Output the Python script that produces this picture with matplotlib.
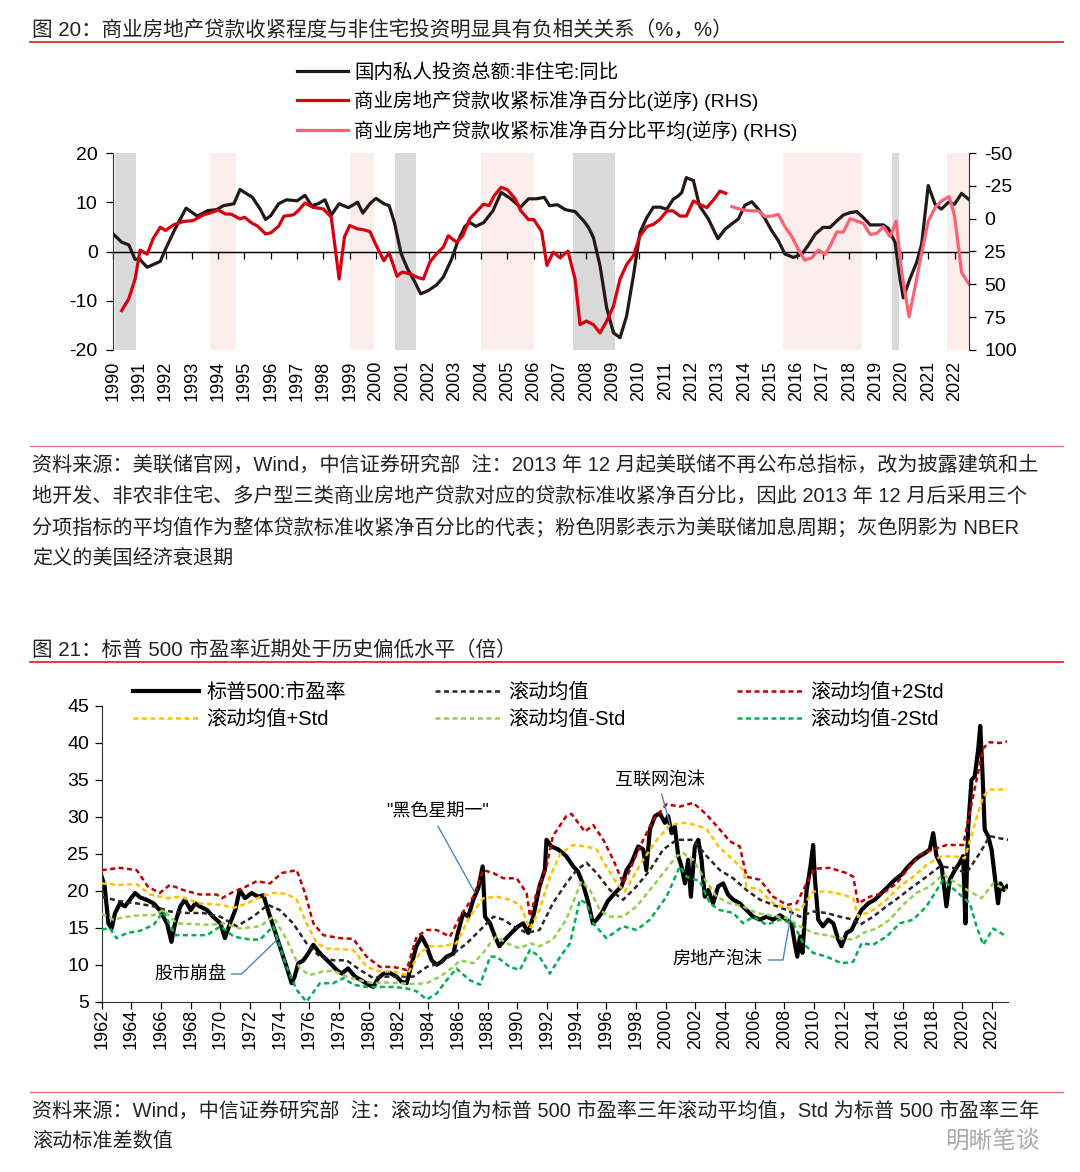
import matplotlib
matplotlib.use("Agg")
import matplotlib.pyplot as plt
from matplotlib.lines import Line2D

plt.rcParams['font.family'] = ['Liberation Sans', 'Noto Sans CJK SC']
plt.rcParams['axes.unicode_minus'] = False

# ---------------- 数据：图 20 ----------------
# 国内私人投资总额:非住宅:同比 (左轴, %)
inv_x = [1990.0, 1990.33, 1990.6, 1990.84, 1991.0, 1991.3, 1991.8, 1992.0, 1992.36, 1992.78,
         1993.2, 1993.6, 1993.94, 1994.2, 1994.6, 1994.83, 1995.0, 1995.3, 1995.6, 1995.8,
         1996.0, 1996.3, 1996.6, 1997.0, 1997.3, 1997.55, 1997.8, 1998.06, 1998.3, 1998.6,
         1998.95, 1999.3, 1999.5, 1999.77, 2000.0, 2000.3, 2000.5, 2000.7, 2000.96, 2001.2,
         2001.45, 2001.7, 2002.0, 2002.3, 2002.56, 2002.88, 2003.1, 2003.38, 2003.57, 2003.8,
         2004.1, 2004.45, 2004.76, 2005.1, 2005.5, 2005.8, 2006.1, 2006.4, 2006.6, 2006.9,
         2007.2, 2007.57, 2007.9, 2008.08, 2008.27, 2008.52, 2008.77, 2009.03, 2009.28, 2009.53,
         2009.79, 2010.04, 2010.3, 2010.55, 2010.8, 2011.06, 2011.3, 2011.5, 2011.63, 2011.8,
         2012.07, 2012.3, 2012.64, 2013.0, 2013.27, 2013.53, 2013.78, 2014.03, 2014.29, 2014.54,
         2014.8, 2015.05, 2015.3, 2015.55, 2015.87, 2016.2, 2016.44, 2016.7, 2017.0, 2017.27,
         2017.52, 2017.77, 2018.03, 2018.28, 2018.53, 2018.79, 2019.04, 2019.3, 2019.48, 2019.74,
         2019.93, 2020.05, 2020.3, 2020.56, 2020.75, 2021.0, 2021.26, 2021.5, 2021.77, 2022.0,
         2022.27, 2022.56]
inv_y = [3.6, 1.9, 1.35, -1.6, -1.5, -3.2, -2.0, 0.5, 4.6, 8.8,
         7.2, 8.3, 8.5, 9.3, 9.7, 12.6, 12.0, 11.0, 8.6, 6.5,
         7.3, 9.7, 10.5, 10.3, 11.4, 9.3, 9.7, 10.5, 7.4, 9.7,
         8.9, 10.0, 7.8, 9.7, 10.8, 9.7, 9.3, 5.9, -0.5, -3.5,
         -5.9, -8.6, -7.9, -6.8, -5.2, -1.5, 1.9, 5.1, 5.9, 5.1,
         5.9, 8.3, 12.0, 10.8, 9.0, 10.7, 10.7, 11.0, 9.3, 9.5,
         8.5, 8.1, 6.2, 4.9, 2.8, -2.9, -11.4, -16.5, -17.5, -13.1,
         -4.9, 3.9, 6.9, 9.0, 9.0, 8.6, 10.6, 11.3, 12.0, 15.0,
         14.4, 9.3, 6.6, 2.6, 4.5, 5.6, 6.6, 9.4, 10.1, 8.6,
         6.6, 4.2, 2.2, -0.5, -1.2, -0.5, 1.3, 3.5, 4.9, 4.9,
         6.2, 7.4, 7.9, 8.1, 6.9, 5.4, 5.4, 5.4, 4.7, 1.8,
         -5.6, -9.4, -5.6, -2.2, 1.5, 13.4, 9.6, 8.6, 10.0, 9.6,
         11.8, 10.5]

# 商业房地产贷款收紧标准净百分比 (右轴, 逆序)
red_x = [1990.33, 1990.6, 1990.84, 1991.03, 1991.3, 1991.53, 1991.8, 1992.0, 1992.3, 1992.67,
         1993.05, 1993.43, 1993.7, 1994.0, 1994.27, 1994.5, 1994.83, 1995.0, 1995.27, 1995.5,
         1995.8, 1996.0, 1996.3, 1996.5, 1996.86, 1997.05, 1997.3, 1997.6, 1998.0, 1998.3,
         1998.6, 1998.8, 1999.0, 1999.3, 1999.5, 1999.77, 2000.0, 2000.3, 2000.5, 2000.8,
         2001.0, 2001.3, 2001.55, 2001.8, 2002.05, 2002.3, 2002.56, 2002.75, 2003.07, 2003.3,
         2003.57, 2003.83, 2004.08, 2004.3, 2004.5, 2004.76, 2005.0, 2005.3, 2005.5, 2005.8,
         2006.0, 2006.3, 2006.5, 2006.74, 2007.0, 2007.3, 2007.57, 2007.76, 2008.0, 2008.27,
         2008.52, 2008.77, 2009.03, 2009.28, 2009.53, 2009.79, 2010.04, 2010.3, 2010.55, 2010.8,
         2011.06, 2011.3, 2011.56, 2011.8, 2012.07, 2012.3, 2012.58, 2012.83, 2013.08, 2013.3]
red_y = [70, 61, 46, 24, 27, 15, 6.5, 9, 4.7, 2.2,
         1.4, -2.8, -4.4, -6.6, -3.6, -3.4, 0.2, -1.1, 3.2, 5.7,
         11.6, 10.8, 5.7, -1.9, -2.9, -6.2, -12, -8.7, -7.4, -1.1,
         46, 14, 5.2, 7.8, 8.3, 9.8, 20, 32, 26, 43.8,
         40.7, 42, 44.5, 46, 33, 26.8, 21.7, 13, 18, 13,
         0, -5.4, -11, -10, -17.6, -23.9, -22, -15, -6.2, 0.7,
         0.7, 9.8, 35.6, 25.5, 29.8, 24.7, 46, 80.7, 78, 80.7,
         87, 78, 66.7, 46, 35, 28, 13, 6.1, 4.3, 0.5,
         -5.9, -5.9, -2, -2, -13.5, -11, -8.4, -14.2, -21, -19.3]

# 商业房地产贷款收紧标准净百分比平均 (右轴, 逆序)
avg_x = [2013.53, 2013.78, 2014.03, 2014.29, 2014.54, 2014.8, 2015.05, 2015.3, 2015.55, 2015.8,
         2016.06, 2016.3, 2016.57, 2016.82, 2017.08, 2017.33, 2017.52, 2017.77, 2018.03, 2018.28,
         2018.53, 2018.79, 2019.04, 2019.3, 2019.55, 2019.78, 2019.99, 2020.27, 2020.53, 2020.75,
         2021.0, 2021.26, 2021.5, 2021.8, 2022.0, 2022.27, 2022.56]
avg_y = [-9.2, -7.6, -6.4, -5.9, -5.9, -1.5, -2, -3.3, 6.1, 13.2,
         23.4, 31.6, 29.8, 24, 27.2, 18.3, 10.2, 10.2, 0, 1.8,
         3.6, 12, 11.2, 6.1, 13.7, 1.8, 41, 74.8, 48.9, 26,
         1.8, -8.4, -13.5, -16.8, -2, 41, 50]

recessions = [(1990.06, 1990.87), (2000.72, 2001.52), (2007.49, 2009.09), (2019.62, 2019.89)]
hikes = [(1993.69, 1994.68), (1999.01, 1999.92), (2003.99, 2006.0), (2015.47, 2018.48), (2021.71, 2022.55)]

# ---------------- 数据：图 21 ----------------
pe_x = [1962.0, 1962.2, 1962.45, 1962.67, 1962.9, 1963.23, 1963.57, 1963.9, 1964.25, 1964.6,
        1965.0, 1965.5, 1965.9, 1966.4, 1966.7, 1966.94, 1967.3, 1967.6, 1968.0, 1968.3,
        1968.6, 1969.1, 1969.5, 1970.0, 1970.3, 1970.65, 1971.0, 1971.3, 1971.66, 1972.1,
        1972.55, 1972.9, 1973.2, 1973.56, 1974.0, 1974.46, 1974.8, 1975.0, 1975.25, 1975.6,
        1975.9, 1976.26, 1976.6, 1976.93, 1977.4, 1977.83, 1978.17, 1978.6, 1979.07, 1979.5,
        1979.97, 1980.3, 1980.64, 1981.0, 1981.4, 1981.87, 1982.2, 1982.55, 1982.9, 1983.2,
        1983.56, 1983.9, 1984.23, 1984.57, 1984.9, 1985.24, 1985.7, 1986.0, 1986.36, 1986.7,
        1987.04, 1987.38, 1987.67, 1987.83, 1988.17, 1988.5, 1988.8, 1989.17, 1989.6, 1990.07,
        1990.4, 1990.74, 1991.08, 1991.5, 1991.86, 1991.97, 1992.3, 1992.76,
        1993.3, 1993.77, 1994.1, 1994.45, 1994.8, 1995.1, 1995.35, 1995.7, 1996.1, 1996.58,
        1997.03, 1997.37, 1997.7, 1998.15, 1998.49, 1998.7, 1998.94, 1999.28, 1999.6, 1999.95,
        2000.17, 2000.4, 2000.62, 2000.85, 2001.07, 2001.3, 2001.52, 2001.7, 2001.97, 2002.2,
        2002.42, 2002.64, 2002.87, 2003.2, 2003.54, 2003.88, 2004.2, 2004.55, 2005.0, 2005.45,
        2005.9, 2006.35, 2006.8, 2007.25, 2007.7, 2008.15, 2008.48, 2008.7, 2008.87, 2009.05,
        2009.22, 2009.5, 2009.76, 2009.94, 2010.05, 2010.28, 2010.6, 2010.95, 2011.3, 2011.63,
        2011.85, 2012.19, 2012.53, 2012.86, 2013.2, 2013.65, 2014.1, 2014.55, 2015.0, 2015.45,
        2015.9, 2016.34, 2016.8, 2017.13, 2017.47, 2017.8, 2018.03, 2018.25, 2018.6, 2018.92,
        2019.15, 2019.49, 2019.82, 2020.05, 2020.2, 2020.38, 2020.61, 2020.83, 2021.06, 2021.2,
        2021.35, 2021.5, 2021.73, 2021.96, 2022.18, 2022.4, 2022.56, 2022.79, 2023.0]
pe_y = [21.9, 20.6, 15.6, 14.9, 17, 18.3, 17.9, 18.8, 19.7, 19.1,
        18.8, 18.3, 17.4, 15.6, 13.1, 15.6, 17.9, 18.8, 17.4, 18.3,
        17.9, 17.4, 16.5, 15.6, 13.6, 15.6, 17.4, 20.1, 19.0, 19.7,
        19.2, 19.4, 17.4, 15.2, 12.5, 9.7, 7.5, 8.4, 10.2, 10.6,
        11.5, 12.7, 11.8, 11.1, 10.2, 9.3, 8.8, 9.5, 8.4, 7.9,
        7.3, 7.0, 8.2, 8.8, 8.9, 8.4, 7.7, 7.5, 10.2, 12.5,
        13.8, 12.5, 10.6, 10.0, 10.4, 11.1, 11.5, 14.3, 17.0, 16.5,
        18.8, 20.4, 23.3, 16.5, 15.6, 13.8, 12.5, 13.4, 14.3, 15.2,
        15.6, 14.3, 16.5, 20.6, 22.8, 26.9, 26.0, 25.6,
        24.7, 23.3, 22.6, 20.8, 18.3, 15.6, 16.1, 17.0, 18.6, 19.7,
        20.6, 22.8, 23.8, 26.0, 25.6, 22.8, 28.3, 30.1, 30.5, 29.2,
        30.1, 27.8, 28.7, 24.7, 23.3, 21.0, 24.2, 19.2, 26.0, 26.9,
        24.2, 19.2, 20.1, 18.3, 20.6, 21.0, 19.5, 18.8, 18.3, 17.4,
        16.5, 16.1, 16.5, 16.1, 16.7, 16.1, 15.6, 12.9, 11.1, 13.8,
        11.6, 20.1, 23.3, 26.2, 21.9, 16.1, 15.2, 16.1, 15.6, 13.4,
        12.5, 14.3, 14.7, 16.1, 17.4, 18.3, 18.8, 19.7, 20.6, 21.5,
        22.2, 23.3, 24.2, 24.7, 25.1, 25.6, 27.8, 24.7, 23.3, 17.9,
        21.5, 22.8, 23.8, 24.7, 15.6, 28.3, 35.0, 35.5, 39.1, 42.3,
        36.0, 28.3, 27.4, 25.6, 21.9, 18.3, 21.0, 20.1, 20.6]

mean_x = [1962.0, 1963.2, 1964.36, 1965.5, 1966.6, 1967.7, 1968.85, 1970.0, 1971.1, 1972.2,
          1973.2, 1974.0, 1974.9, 1975.8, 1976.7, 1977.6, 1978.5, 1979.4, 1980.3, 1981.2,
          1982.1, 1983.0, 1983.9, 1984.8, 1985.7, 1986.6, 1987.5, 1988.4, 1989.06, 1989.75,
          1990.63, 1991.5, 1992.4, 1993.3, 1994.0, 1994.67, 1995.35, 1996.25, 1997.14, 1998.04,
          1998.94, 1999.84, 2000.74, 2001.86, 2002.76, 2003.65, 2004.55, 2005.45, 2006.35, 2007.25,
          2008.15, 2009.05, 2009.94, 2010.84, 2011.74, 2012.64, 2013.09, 2013.98, 2014.88, 2015.78,
          2016.68, 2017.58, 2018.48, 2019.37, 2020.27, 2021.17, 2021.84, 2022.52, 2023.08]
mean_y = [19.2, 18.6, 18.3, 17.9, 17.2, 17.0, 17.0, 16.5, 15.2, 16.5,
          18.1, 17.4, 15.6, 12.9, 11.1, 10.6, 10.6, 9.3, 8.2, 8.4,
          8.4, 8.4, 9.7, 10.2, 11.5, 12.9, 14.7, 16.5, 16.1, 15.2,
          14.3, 14.7, 18.3, 21.0, 22.8, 23.8, 22.4, 20.1, 18.8, 20.6,
          22.8, 25.6, 26.9, 26.9, 24.7, 22.8, 21.7, 20.1, 18.8, 18.1,
          17.4, 16.5, 17.2, 17.0, 16.5, 16.1, 15.4, 16.5, 17.9, 19.2,
          20.6, 21.9, 23.3, 23.1, 22.4, 25.1, 27.4, 27.1, 26.9]

up2_x = [1962.0, 1963.2, 1964.36, 1965.1, 1965.9, 1966.6, 1967.5, 1968.6, 1969.75, 1970.1,
         1970.9, 1971.55, 1972.45, 1973.34, 1974.13, 1975.14, 1975.7, 1976.26, 1976.93, 1978.06,
         1978.95, 1979.85, 1980.75, 1981.65, 1982.55, 1983.22, 1983.9, 1984.57, 1985.47, 1986.14,
         1987.04, 1987.7, 1988.39, 1989.06, 1989.96, 1990.63, 1990.86, 1991.3, 1991.97, 1992.4,
         1993.3, 1993.66, 1994.56, 1995.12, 1995.8, 1996.47, 1997.14, 1997.59, 1998.27, 1999.16,
         2000.06, 2000.96, 2001.86, 2002.76, 2003.65, 2004.33, 2005.0, 2005.45, 2006.35, 2007.25,
         2008.15, 2008.82, 2009.5, 2010.05, 2011.07, 2012.19, 2012.64, 2012.97, 2013.76, 2014.66,
         2015.56, 2016.45, 2017.13, 2018.03, 2018.93, 2020.05, 2020.72, 2021.4, 2021.84, 2022.52,
         2023.0]
up2_y = [22.8, 23.1, 22.8, 20.6, 19.7, 20.8, 20.1, 19.5, 19.5, 19.0,
         19.9, 20.4, 21.3, 21.0, 22.4, 22.8, 19.7, 15.6, 14.0, 13.6,
         13.5, 11.1, 9.7, 9.7, 9.3, 13.8, 14.7, 14.7, 13.8, 16.5,
         19.2, 22.8, 22.4, 21.7, 21.7, 19.7, 16.5, 19.7, 23.3, 27.4,
         30.1, 30.4, 28.0, 28.9, 26.9, 24.2, 21.0, 22.8, 26.0, 29.6,
         31.7, 31.4, 31.9, 30.3, 28.3, 26.7, 26.0, 21.9, 21.5, 19.2,
         18.1, 18.3, 21.0, 23.0, 23.1, 22.4, 21.9, 18.3, 19.2, 19.7,
         21.0, 23.3, 24.9, 25.6, 26.2, 26.2, 32.8, 39.3, 40.1, 40.0,
         40.2]

up1_x = [1962.0, 1963.2, 1964.36, 1965.26, 1966.4, 1967.3, 1968.6, 1970.0, 1970.9, 1971.8,
         1972.7, 1973.56, 1974.46, 1975.14, 1975.8, 1976.5, 1977.16, 1978.06, 1978.95, 1979.85,
         1980.75, 1981.65, 1982.55, 1983.45, 1984.12, 1985.0, 1985.9, 1986.8, 1987.7, 1988.6,
         1989.5, 1990.18, 1990.86, 1991.5, 1992.2, 1992.9, 1993.77, 1994.67, 1995.35, 1996.0,
         1996.7, 1997.26, 1997.82, 1998.49, 1999.4, 2000.29, 2001.18, 2002.08, 2002.76, 2003.65,
         2004.55, 2005.23, 2005.45, 2006.35, 2007.25, 2008.15, 2009.05, 2009.94, 2010.84, 2011.97,
         2012.64, 2012.97, 2013.98, 2014.88, 2015.78, 2016.68, 2017.58, 2018.48, 2019.37, 2020.16,
         2020.72, 2021.4, 2021.84, 2022.52, 2023.0]
up1_y = [21.0, 20.8, 20.9, 19.5, 19.0, 19.2, 18.3, 18.1, 17.7, 18.3,
         19.2, 19.7, 19.6, 18.8, 15.6, 12.9, 12.2, 12.1, 12.0, 9.7,
         9.1, 9.1, 8.6, 11.6, 12.5, 12.5, 12.9, 16.5, 19.0, 19.2,
         18.8, 18.1, 14.9, 17.4, 21.9, 25.0, 26.2, 26.0, 25.6, 23.3,
         21.0, 19.9, 21.9, 24.2, 26.9, 28.9, 29.2, 28.9, 28.3, 25.8,
         24.2, 22.8, 20.6, 20.1, 18.3, 17.7, 17.4, 19.9, 19.9, 19.5,
         19.0, 16.5, 17.4, 18.8, 20.6, 21.9, 23.5, 24.6, 24.7, 24.4,
         28.3, 32.8, 33.7, 33.7, 33.7]

lo1_x = [1962.0, 1962.8, 1963.7, 1964.6, 1965.5, 1966.15, 1967.05, 1968.17, 1969.3, 1970.2,
         1971.32, 1972.67, 1973.56, 1974.46, 1975.36, 1976.0, 1976.93, 1977.6, 1978.5, 1979.4,
         1980.3, 1981.2, 1982.1, 1983.0, 1983.9, 1984.8, 1985.7, 1986.14, 1987.04, 1987.7,
         1988.17, 1988.6, 1989.3, 1990.18, 1990.86, 1991.5, 1992.4, 1993.3, 1994.33, 1994.9,
         1995.57, 1996.25, 1997.14, 1998.04, 1998.94, 1999.84, 2000.74, 2001.18, 2001.86, 2002.53,
         2003.43, 2004.33, 2005.23, 2006.12, 2007.02, 2008.15, 2009.05, 2009.94, 2010.84, 2011.74,
         2012.64, 2013.31, 2014.21, 2015.11, 2016.0, 2016.9, 2017.8, 2018.7, 2019.6, 2020.5,
         2021.28, 2022.07, 2023.0]
lo1_y = [16.9, 16.1, 16.5, 16.7, 16.7, 17.4, 15.6, 15.5, 15.4, 15.6,
         14.9, 15.2, 16.5, 13.4, 9.5, 8.6, 9.1, 9.2, 8.4, 7.9,
         7.5, 7.6, 7.5, 7.4, 7.5, 8.4, 9.7, 10.6, 10.2, 11.6,
         12.9, 13.8, 12.9, 12.2, 12.9, 12.5, 13.4, 16.1, 21.3, 20.1,
         17.4, 16.5, 16.5, 17.9, 20.1, 22.4, 24.7, 25.1, 24.2, 21.9,
         19.2, 18.3, 17.9, 17.0, 16.7, 16.3, 15.2, 14.3, 14.0, 13.6,
         13.4, 14.3, 14.9, 16.1, 18.1, 19.7, 20.6, 22.2, 21.0, 19.9,
         19.0, 21.0, 20.1]

lo2_x = [1962.0, 1962.56, 1963.0, 1963.7, 1964.6, 1965.5, 1966.15, 1966.94, 1968.0, 1969.1,
         1970.0, 1970.9, 1972.0, 1972.67, 1973.56, 1974.46, 1975.14, 1975.8, 1976.7, 1977.6,
         1978.3, 1978.95, 1979.85, 1980.75, 1981.65, 1982.55, 1983.22, 1983.9, 1984.57, 1985.24,
         1985.9, 1986.8, 1987.5, 1988.17, 1988.6, 1989.5, 1990.18, 1990.86, 1991.5, 1992.2,
         1992.9, 1993.56, 1994.22, 1994.67, 1995.12, 1996.0, 1997.14, 1998.04, 1998.94, 2000.06,
         2000.96, 2001.41, 2002.31, 2002.98, 2003.65, 2004.55, 2005.23, 2005.9, 2006.8, 2007.7,
         2008.6, 2009.27, 2009.94, 2010.84, 2011.85, 2012.64, 2013.2, 2013.98, 2014.88, 2015.78,
         2016.68, 2017.58, 2018.7, 2019.6, 2020.5, 2020.95, 2021.4, 2022.07, 2023.0]
lo2_y = [14.8, 14.9, 13.6, 14.3, 14.6, 15.4, 17.2, 14.0, 14.0, 14.0,
         15.2, 13.8, 13.4, 13.4, 15.2, 9.7, 6.6, 5.0, 7.5, 7.5,
         8.2, 7.3, 7.0, 7.0, 7.0, 6.8, 6.4, 5.3, 6.1, 7.9,
         9.5, 7.9, 7.3, 11.1, 11.1, 9.7, 9.3, 12.0, 11.1, 8.8,
         11.1, 12.9, 18.8, 18.3, 15.6, 13.6, 15.2, 14.7, 16.1, 19.2,
         23.3, 21.9, 21.3, 18.3, 17.4, 17.0, 15.6, 16.5, 15.4, 16.1,
         15.6, 12.9, 11.6, 11.1, 10.2, 10.4, 12.9, 12.7, 13.8, 15.6,
         16.1, 17.9, 21.5, 19.9, 18.3, 15.2, 12.7, 14.9, 13.8]

# ---------------- 画布 ----------------
W, H = 1080, 1172
fig = plt.figure(figsize=(W / 100, H / 100), dpi=100)


def fx(px):
    return px / W


def fy(py):
    return 1 - py / H


def hrule(y, color, lw):
    fig.add_artist(Line2D([fx(30), fx(1063)], [fy(y), fy(y)], color=color, lw=lw,
                          transform=fig.transFigure))


RULE = '#E0282E'
RULE2 = '#E47272'

# ================= 图 20 =================
fig.text(fx(32), fy(30), "图 20：商业房地产贷款收紧程度与非住宅投资明显具有负相关关系（%，%）",
         fontsize=14.8, va='center', ha='left', color='#222222')
hrule(42, RULE, 1.3)

ax1 = fig.add_axes([fx(113), fy(350), fx(969) - fx(113), (350 - 153) / H])
ax1.set_xlim(1990, 2022.55)
ax1.set_ylim(-20, 20)
for a, b in recessions:
    ax1.axvspan(a, b, color='#D9D9D9', lw=0, zorder=0)
for a, b in hikes:
    ax1.axvspan(a, b, color='#FCEDED', lw=0, zorder=0)
ax1.axhline(0, color='black', lw=0.9, zorder=2)
l_inv, = ax1.plot(inv_x, inv_y, color='#231815', lw=2.3, zorder=3)

ax2 = ax1.twinx()
ax2.set_ylim(100, -50)
l_red, = ax2.plot(red_x, red_y, color='#D7000F', lw=2.3)
l_avg, = ax2.plot(avg_x, avg_y, color='#FF6072', lw=2.3)

for s in ['top', 'bottom', 'right']:
    ax1.spines[s].set_visible(False)
for s in ['top', 'bottom', 'left']:
    ax2.spines[s].set_visible(False)
ax1.spines['left'].set_color('#333333')
ax2.spines['right'].set_color('#333333')

ax1.set_yticks([-20, -10, 0, 10, 20])
ax1.tick_params(axis='y', length=5, width=0.9, labelsize=14, pad=6, colors='black')
ax2.set_yticks([-50, -25, 0, 25, 50, 75, 100])
ax2.tick_params(axis='y', length=5, width=0.9, labelsize=14, pad=6)

years1 = list(range(1990, 2023))
ax1.set_xticks(years1)
ax1.set_xticklabels([str(y) for y in years1], rotation=90, fontsize=13)
ax1.tick_params(axis='x', length=0, pad=8)

sec = ax1.secondary_xaxis(0.4999)
sec.set_xticks(years1)
sec.tick_params(axis='x', length=5, width=0.9, labelbottom=False, labeltop=False)
sec.spines['bottom'].set_linewidth(0.9)
sec.spines['top'].set_visible(False)

fig.legend([l_inv, l_red, l_avg],
           ["国内私人投资总额:非住宅:同比",
            "商业房地产贷款收紧标准净百分比(逆序) (RHS)",
            "商业房地产贷款收紧标准净百分比平均(逆序) (RHS)"],
           loc='upper left', bbox_to_anchor=(fx(297), fy(63)), frameon=False,
           fontsize=14, handlelength=2.6, handletextpad=0.35, labelspacing=0.46,
           borderpad=0, borderaxespad=0)

hrule(446, RULE2, 1.0)
notes1 = ["资料来源：美联储官网，Wind，中信证券研究部  注：2013 年 12 月起美联储不再公布总指标，改为披露建筑和土",
          "地开发、非农非住宅、多户型三类商业房地产贷款对应的贷款标准收紧净百分比，因此 2013 年 12 月后采用三个",
          "分项指标的平均值作为整体贷款标准收紧净百分比的代表；粉色阴影表示为美联储加息周期；灰色阴影为 NBER",
          "定义的美国经济衰退期"]
for i, t in enumerate(notes1):
    fig.text(fx(32), fy(465 + 31 * i), t, fontsize=14.5, va='center', ha='left', color='#222222')

# ================= 图 21 =================
fig.text(fx(32), fy(650), "图 21：标普 500 市盈率近期处于历史偏低水平（倍）",
         fontsize=14.8, va='center', ha='left', color='#222222')
hrule(662, RULE, 1.3)

bx = fig.add_axes([fx(101.7), fy(1001.7), fx(1008) - fx(101.7), (1001.7 - 706) / H])
bx.set_xlim(1962, 2023.07)
bx.set_ylim(5, 45)

dash = (0, (2.0, 1.4))
l_pe, = bx.plot(pe_x, pe_y, color='black', lw=3.0, zorder=2)
l_mean, = bx.plot(mean_x, mean_y, color='#2E2422', lw=1.8, ls=dash, zorder=3)
l_up2, = bx.plot(up2_x, up2_y, color='#C00000', lw=1.8, ls=dash, zorder=3)
l_up1, = bx.plot(up1_x, up1_y, color='#FFC000', lw=1.8, ls=dash, zorder=3)
l_lo1, = bx.plot(lo1_x, lo1_y, color='#92D050', lw=1.8, ls=dash, zorder=3)
l_lo2, = bx.plot(lo2_x, lo2_y, color='#00B050', lw=1.8, ls=dash, zorder=3)

for s in ['top', 'right']:
    bx.spines[s].set_visible(False)
bx.spines['left'].set_color('#333333')
bx.spines['bottom'].set_color('#333333')
bx.set_yticks(range(5, 50, 5))
bx.tick_params(axis='y', length=5, width=0.9, labelsize=14, pad=4)
years2 = list(range(1962, 2023, 2))
bx.set_xticks(years2)
bx.set_xticklabels([str(y) for y in years2], rotation=90, fontsize=13)
bx.tick_params(axis='x', length=5, width=0.9, pad=0)

# 图例：三列，每列两行
leg_cols = [([l_pe, l_up1], ["标普500:市盈率", "滚动均值+Std"], 133),
            ([l_mean, l_lo1], ["滚动均值", "滚动均值-Std"], 435),
            ([l_up2, l_lo2], ["滚动均值+2Std", "滚动均值-2Std"], 737)]
for hs, ls_, x0 in leg_cols:
    fig.legend(hs, ls_, loc='upper left', bbox_to_anchor=(fx(x0), fy(683)), frameon=False,
               fontsize=14.5, handlelength=3.3, handletextpad=0.35, labelspacing=0.4,
               borderpad=0, borderaxespad=0)

lead = dict(arrowstyle='-', color='#4A86C5', lw=1.0, shrinkA=2, shrinkB=0)
bx.annotate('"黑色星期一"', xy=(1987.16, 19.7), xytext=(1984.6, 30.6), fontsize=13,
            ha='center', va='center', arrowprops=dict(lead, relpos=(0.48, 0)))
bx.annotate("股市崩盘", xy=(1973.88, 13.5), xytext=(1967.95, 8.75), fontsize=13,
            ha='center', va='center',
            arrowprops=dict(lead, relpos=(1, 0.5), connectionstyle="angle,angleA=0,angleB=44,rad=0"))
bx.annotate("互联网泡沫", xy=(2000.3, 28.9), xytext=(1999.63, 35.0), fontsize=13,
            ha='center', va='center', arrowprops=dict(lead, relpos=(0.5, 0)))
bx.annotate("房地产泡沫", xy=(2008.5, 17.4), xytext=(2003.52, 10.64), fontsize=13,
            ha='center', va='center',
            arrowprops=dict(lead, relpos=(1, 0.5), connectionstyle="angle,angleA=0,angleB=80,rad=0"))

hrule(1092, RULE2, 1.0)
notes2 = ["资料来源：Wind，中信证券研究部  注：滚动均值为标普 500 市盈率三年滚动平均值，Std 为标普 500 市盈率三年",
          "滚动标准差数值"]
for i, t in enumerate(notes2):
    fig.text(fx(32), fy(1111 + 30 * i), t, fontsize=14.5, va='center', ha='left', color='#222222')
fig.text(fx(945), fy(1142), "明晰笔谈", fontsize=17, va='center', ha='left', color='#9A9A9A', alpha=0.85)

fig.savefig("out.png", dpi=100)
